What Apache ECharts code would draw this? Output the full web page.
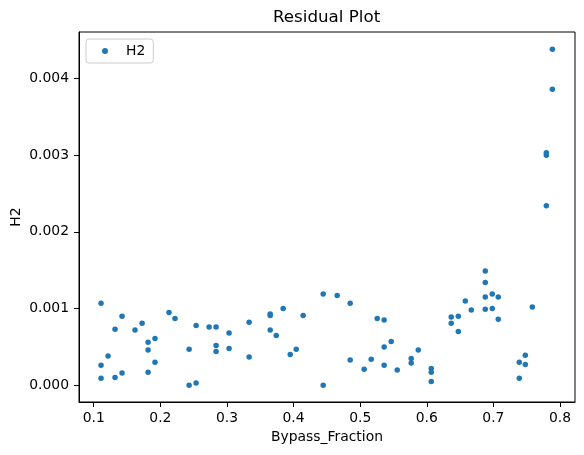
<!DOCTYPE html>
<html>
<head>
<meta charset="utf-8">
<script src="https://cdn.jsdelivr.net/npm/echarts@6/dist/echarts.min.js"></script>
<style>
html,body{margin:0;padding:0;background:#fff;}
#chart{width:584px;height:455px;}
</style>
</head>
<body>
<div id="chart"></div>
<script>
const seriesName = 'H2';
const bypassFraction = [
  0.111, 0.1425, 0.132, 0.162, 0.1726, 0.213, 0.222, 0.1816, 0.192, 0.1816,
  0.192, 0.1816, 0.1215, 0.111, 0.111, 0.132, 0.1425, 0.2537, 0.2732, 0.2837,
  0.3032, 0.3333, 0.2432, 0.2837, 0.2837, 0.3032, 0.3333, 0.2432, 0.2537, 0.4445,
  0.4655, 0.485, 0.3649, 0.3649, 0.3844, 0.4144, 0.3649, 0.374, 0.395, 0.404,
  0.4445, 0.485, 0.506, 0.5166, 0.5256, 0.536, 0.536, 0.5466, 0.536, 0.5556,
  0.5766, 0.5766, 0.5872, 0.6067, 0.6067, 0.6067, 0.6878, 0.6878, 0.6878, 0.6983,
  0.7073, 0.6878, 0.6983, 0.7073, 0.6578, 0.6668, 0.6367, 0.6473, 0.6367, 0.6473,
  0.7584, 0.7479, 0.7389, 0.7479, 0.7389, 0.7885, 0.7885, 0.7795, 0.7795, 0.7795
];
const h2Residual = [
  0.00107, 0.00090, 0.00073, 0.00072, 0.00081, 0.00095, 0.00087, 0.00056, 0.00061, 0.00046,
  0.00030, 0.00017, 0.00038, 0.00026, 0.00009, 0.00010, 0.00016, 0.00078, 0.00076, 0.00076,
  0.00068, 0.00082, 0.00047, 0.00052, 0.00044, 0.00048, 0.00037, 0.00000, 0.00003, 0.00119,
  0.00117, 0.00107, 0.00093, 0.00091, 0.00100, 0.00091, 0.00072, 0.00065, 0.00040, 0.00047,
  0.00000, 0.00033, 0.00021, 0.00034, 0.00087, 0.00085, 0.00050, 0.00057, 0.00026, 0.00020,
  0.00035, 0.00029, 0.00046, 0.00022, 0.00017, 0.00005, 0.00149, 0.00134, 0.00115, 0.00119,
  0.00115, 0.00099, 0.00100, 0.00086, 0.00110, 0.00098, 0.00089, 0.00090, 0.00081, 0.00070,
  0.00102, 0.00039, 0.00030, 0.00027, 0.00009, 0.00438, 0.00386, 0.00303, 0.00300, 0.00234
];
const xTicks = [0.1, 0.2, 0.3, 0.4, 0.5, 0.6, 0.7, 0.8];
const yTicks = [0.000, 0.001, 0.002, 0.003, 0.004];

const points = bypassFraction.map((x, i) => [x, h2Residual[i]]);
const FONT = 'DejaVu Sans';

const chart = echarts.init(document.getElementById('chart'), null, {renderer: 'canvas'});
chart.setOption({
  animation: false,
  backgroundColor: '#ffffff',
  title: {
    text: 'Residual Plot',
    left: 273, top: 9, padding: 0,
    textStyle: {fontFamily: FONT, fontSize: 16.7, fontWeight: 'normal', color: '#000'}
  },
  legend: {
    data: [seriesName],
    left: 86, top: 39,
    orient: 'vertical',
    padding: [5, 8, 5, 16],
    itemWidth: 6, itemHeight: 6,
    borderColor: '#cccccc', borderWidth: 1, borderRadius: 3,
    backgroundColor: '#ffffff',
    textStyle: {fontFamily: FONT, fontSize: 13.9, color: '#000', padding: [0, 0, 0, 13]}
  },
  grid: {
    left: 79, right: 9, top: 32, bottom: 53,
    outerBoundsMode: 'none', containLabel: false,
    show: true, borderColor: '#000', borderWidth: 1, backgroundColor: 'transparent'
  },
  xAxis: {
    type: 'value',
    min: 0.0779, max: 0.8225,
    name: 'Bypass_Fraction', nameLocation: 'middle', nameGap: 28, nameMoveOverlap: false,
    nameTextStyle: {fontFamily: FONT, fontSize: 13.9, color: '#000'},
    axisLine: {show: true, onZero: false, lineStyle: {color: '#000', width: 1}},
    axisTick: {show: true, length: 5, lineStyle: {color: '#000', width: 1}, customValues: xTicks},
    axisLabel: {fontFamily: FONT, fontSize: 13.9, color: '#000', margin: 9,
      customValues: xTicks, formatter: v => v.toFixed(1)},
    splitLine: {show: false}
  },
  yAxis: {
    type: 'value',
    min: -0.000218, max: 0.004605,
    name: 'H2', nameLocation: 'middle', nameGap: 56, nameRotate: 90, nameMoveOverlap: false,
    nameTextStyle: {fontFamily: FONT, fontSize: 13.9, color: '#000'},
    axisLine: {show: true, onZero: false, lineStyle: {color: '#000', width: 1}},
    axisTick: {show: true, length: 5, lineStyle: {color: '#000', width: 1}, customValues: yTicks},
    axisLabel: {fontFamily: FONT, fontSize: 13.9, color: '#000', margin: 10,
      customValues: yTicks, formatter: v => v.toFixed(3)},
    splitLine: {show: false}
  },
  series: [{
    name: seriesName,
    type: 'scatter',
    data: points,
    symbol: 'circle',
    symbolSize: 5.5,
    itemStyle: {color: '#1f77b4', opacity: 1}
  }]
});
</script>
</body>
</html>
